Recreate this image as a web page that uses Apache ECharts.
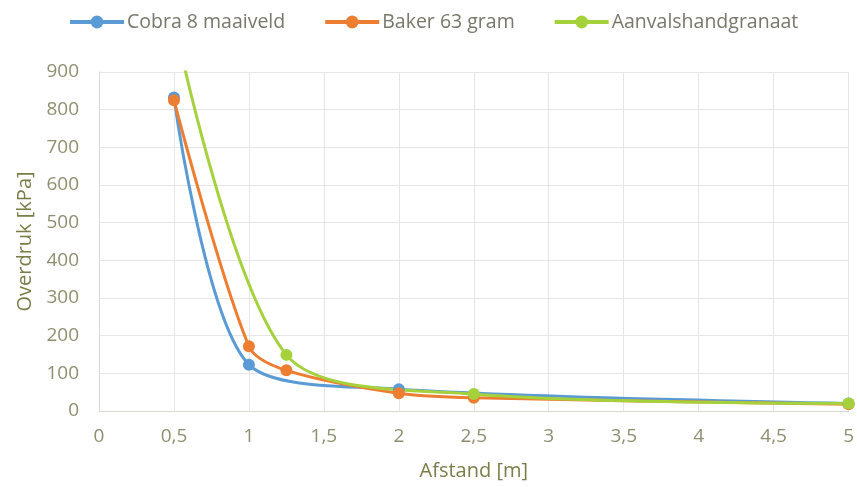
<!DOCTYPE html>
<html><head><meta charset="utf-8">
<script src="https://cdn.jsdelivr.net/npm/echarts@6/dist/echarts.min.js"></script>
<style>html,body{margin:0;padding:0;background:#fff}#c{width:857px;height:487px}</style>
</head><body><div id="c"></div>
<script>
const seriesNames = ['Cobra 8 maaiveld', 'Baker 63 gram', 'Aanvalshandgranaat'];
const cobraX = [0.5, 1, 2, 5];
const cobraY = [832, 123, 58, 20];
const bakerX = [0.5, 1, 1.25, 2, 2.5, 5];
const bakerY = [825, 172, 108, 47, 35, 18];
const granaatX = [0.5, 1.25, 2.5, 5];
const granaatY = [1040, 149, 45, 20];
const colors = ['#5B9BD5', '#ED7D31', '#A5D23C'];
const xTicks = ['0','0,5','1','1,5','2','2,5','3','3,5','4','4,5','5'];

const pairs = (xs, ys) => xs.map((x, i) => [x, ys[i]]);
const font = '"Open Sans", Lato, sans-serif';
const chart = echarts.init(document.getElementById('c'));
const mk = (name, data, color) => ({
  name, type: 'line', data, smooth: 0.3, clip: true,
  symbol: 'circle', symbolSize: 12,
  lineStyle: {width: 3, color}, itemStyle: {color},
});
chart.setOption({
  animation: false,
  color: colors,
  legend: {
    top: 7, left: 63, itemWidth: 54, itemHeight: 16, itemGap: 38,
    lineStyle: {width: 4},
    textStyle: {fontFamily: font, fontSize: 19.5, color: '#77776a', padding: [0, 0, 0, -2]},
    data: seriesNames
  },
  grid: {left: 99, right: 8, top: 72, bottom: 76},
  xAxis: {
    type: 'value', min: 0, max: 5, interval: 0.5,
    name: 'Afstand [m]', nameLocation: 'middle', nameGap: 50,
    nameTextStyle: {fontFamily: font, fontSize: 20, color: '#7c7c48'},
    axisLine: {lineStyle: {color: '#d8d8d0'}},
    axisTick: {show: false},
    splitLine: {show: true, lineStyle: {color: '#e6e6ea'}},
    axisLabel: {fontFamily: font, fontSize: 19, color: '#8f8f70', margin: 16,
      formatter: v => xTicks[Math.round(v / 0.5)]}
  },
  yAxis: {
    type: 'value', min: 0, max: 900, interval: 100,
    name: 'Overdruk [kPa]', nameLocation: 'middle', nameGap: 62,
    nameTextStyle: {fontFamily: font, fontSize: 20, color: '#7c7c48'},
    axisLine: {show: true, lineStyle: {color: '#d8d8d0'}},
    axisTick: {show: false},
    splitLine: {lineStyle: {color: '#e6e6ea'}},
    axisLabel: {fontFamily: font, fontSize: 19, color: '#8f8f70', margin: 20}
  },
  series: [
    mk(seriesNames[0], pairs(cobraX, cobraY), colors[0]),
    mk(seriesNames[1], pairs(bakerX, bakerY), colors[1]),
    mk(seriesNames[2], pairs(granaatX, granaatY), colors[2])
  ]
});
</script></body></html>
